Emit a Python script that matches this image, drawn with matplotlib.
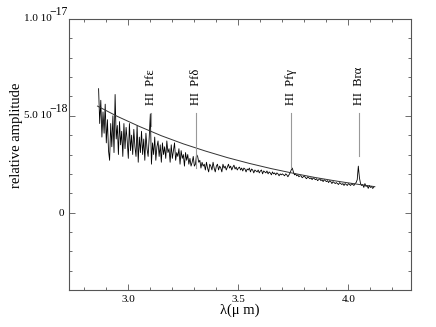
import numpy as np
import matplotlib
matplotlib.use('Agg')
from matplotlib import pyplot as plt
from matplotlib.ticker import MultipleLocator, FuncFormatter

plt.rcParams['font.family'] = ['Liberation Serif', 'DejaVu Serif']

# observed spectrum, units of 1e-18, sampled every 0.005 um from 2.865 um
lam0 = 2.865
dlam = 0.005
flux = [
    6.4, 4.6, 5.8, 3.9, 5.2, 4.1, 5.6, 3.6,
    4.8, 3.2, 2.7, 4.6, 3.4, 5.0, 3.1, 6.1,
    3.8, 4.5, 3.0, 4.7, 3.5, 4.2, 2.9, 4.6,
    3.3, 4.4, 3.7, 2.8, 4.6, 3.2, 4.0, 3.0,
    4.3, 3.4, 2.9, 4.5, 2.6, 3.9, 3.1, 4.2,
    3.0, 3.8, 2.7, 4.1, 3.3, 2.9, 3.9, 5.1,
    2.5, 3.6, 3.0, 3.9, 2.7, 3.4, 3.7, 2.9,
    3.5, 2.6, 3.6, 3.0, 3.4, 2.8, 3.7, 3.1,
    3.3, 2.6, 3.5, 2.8, 3.2, 3.6, 2.7, 3.1,
    2.9, 3.3, 2.5, 3.2, 2.8, 3.0, 2.4, 3.1,
    2.7, 3.0, 2.5, 2.8, 2.4, 2.6, 2.9, 2.4,
    2.5, 3.0, 2.9, 2.6, 2.7, 2.3, 2.6, 2.4,
    2.5, 2.2, 2.6, 2.3, 2.1, 2.5, 2.4, 2.2,
    2.6, 2.3, 2.1, 2.4, 2.5, 2.2, 2.4, 2.3,
    2.1, 2.5, 2.3, 2.4, 2.2, 2.35, 2.5, 2.3,
    2.4, 2.2, 2.35, 2.45, 2.25, 2.35, 2.2, 2.3,
    2.35, 2.2, 2.3, 2.15, 2.3, 2.25, 2.1, 2.25,
    2.2, 2.3, 2.1, 2.25, 2.2, 2.05, 2.2, 2.15,
    2.1, 2.2, 2.05, 2.15, 2.2, 2.0, 2.15, 2.1,
    2.05, 2.15, 2.0, 2.1, 2.05, 1.95, 2.1, 2.0,
    2.05, 1.95, 2.05, 2.0, 1.9, 2.0, 1.95, 2.0,
    1.95, 1.9, 2.0, 1.95, 1.85, 1.95, 2.05, 2.2,
    2.3, 2.1, 1.95, 2.0, 1.9, 1.95, 1.85, 1.9,
    1.9, 1.8, 1.85, 1.9, 1.8, 1.75, 1.85, 1.8,
    1.75, 1.8, 1.7, 1.8, 1.75, 1.7, 1.75, 1.65,
    1.7, 1.75, 1.65, 1.7, 1.6, 1.7, 1.65, 1.6,
    1.65, 1.55, 1.65, 1.6, 1.5, 1.6, 1.55, 1.5,
    1.55, 1.5, 1.45, 1.55, 1.5, 1.45, 1.5, 1.4,
    1.5, 1.45, 1.4, 1.5, 1.45, 1.4, 1.5, 1.45,
    1.4, 1.5, 1.55, 1.7, 2.4, 1.8, 1.5, 1.4,
    1.45, 1.3, 1.5, 1.35, 1.4, 1.25, 1.4, 1.3,
    1.35, 1.25, 1.3,
]

# continuum model
cont_lam = [2.86, 2.95, 3.05, 3.15, 3.25, 3.35, 3.45, 3.55, 3.65, 3.75, 3.85, 3.95, 4.05, 4.12]
cont_val = [5.50, 4.97, 4.45, 3.97, 3.55, 3.18, 2.84, 2.54, 2.27, 2.03, 1.81, 1.62, 1.45, 1.34]

# line identifications
line_names = ['HI  Pf\u03b5', 'HI  Pf\u03b4', 'HI  Pf\u03b3', 'HI  Br\u03b1']
line_lam = [3.103, 3.308, 3.741, 4.047]
line_bottom = [4.45, 2.3, 2.3, 2.9]

# labelled y ticks (mantissa, exponent)
ytick_vals = [5e-18, 1e-17]
ytick_mant = ['5.0', '1.0']
ytick_exp = [-18, -17]

scale = 1e-18
lam = lam0 + dlam * np.arange(len(flux))

fig = plt.figure(figsize=(4.36, 3.27), dpi=100)
ax = fig.add_axes([0.158, 0.113, 0.785, 0.829])

ax.plot(lam, np.array(flux) * scale, color='black', lw=0.6)
ax.plot(cont_lam, np.array(cont_val) * scale, color='#333333', lw=0.7)

for name, x, yb in zip(line_names, line_lam, line_bottom):
    ax.plot([x, x], [yb * scale, 5.15 * scale], color='#999999', lw=0.8)
    ax.text(x, 5.55 * scale, name, rotation=90, ha='center', va='bottom', fontsize=9)

ax.set_xlim(2.73, 4.285)
ax.set_ylim(-4e-18, 1e-17)

ax.xaxis.set_major_locator(MultipleLocator(0.5))
ax.xaxis.set_minor_locator(MultipleLocator(0.1))
ax.yaxis.set_major_locator(MultipleLocator(5e-18))
ax.yaxis.set_minor_locator(MultipleLocator(1e-18))

# only the zero label comes from the axis, the others are written by hand
ax.yaxis.set_major_formatter(FuncFormatter(lambda v, p: '0' if abs(v) < 1e-25 else ''))
ax.xaxis.set_major_formatter(FuncFormatter(lambda v, p: '%.1f' % v))

for v, m, e in zip(ytick_vals, ytick_mant, ytick_exp):
    ax.annotate(m + ' 10', xy=(0, v), xycoords=('axes fraction', 'data'),
                xytext=(-12.5, 0), textcoords='offset points', ha='right', va='center', fontsize=8)
    ax.annotate('\u2212%d' % -e, xy=(0, v), xycoords=('axes fraction', 'data'),
                xytext=(-1, 5), textcoords='offset points', ha='right', va='center', fontsize=8.5)

ax.tick_params(which='both', direction='in', top=True, right=True, labelsize=8, width=0.6, color='#555555')
ax.tick_params(which='major', length=4)
ax.tick_params(which='minor', length=2.5)
for s in ax.spines.values():
    s.set_linewidth(0.8)
    s.set_color('#555555')

ax.set_xlabel('\u03bb(\u03bc m)', fontsize=10.5, labelpad=0)
ax.set_ylabel('relative amplitude', fontsize=10.5)
ax.yaxis.set_label_coords(-0.135, 0.57)

fig.savefig('out.png', dpi=100)
